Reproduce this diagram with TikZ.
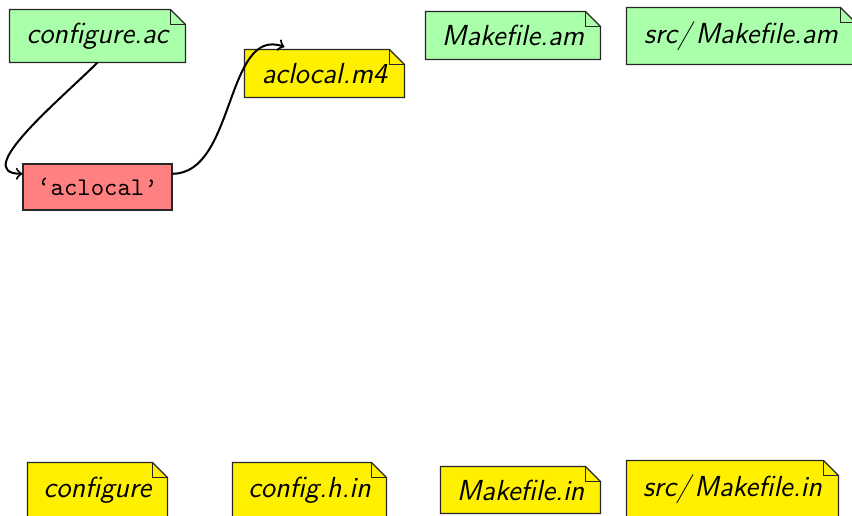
\documentclass[tikz,border=0pt]{standalone}
\usetikzlibrary{backgrounds,calc}
\definecolor{notegreen}{RGB}{170,255,170}
\definecolor{noteyellow}{RGB}{255,240,0}
\definecolor{notered}{RGB}{255,128,128}
\newcommand\notefile[2]{%
  \begin{scope}[on background layer]
    \filldraw[fill=#2,draw=black!85,line width=0.45pt]
      (#1.south west) -- (#1.north west) -- ([xshift=-6pt]#1.north east)
      -- ([yshift=-6pt]#1.north east) -- (#1.south east) -- cycle;
    \draw[black!85,line width=0.45pt]
      ([xshift=-6pt]#1.north east) |- ([yshift=-6pt]#1.north east);
  \end{scope}}
\tikzset{
  filetext/.style={inner sep=0pt,font=\fontsize{11.6}{13}\selectfont\sffamily\itshape},
  progbox/.style={inner sep=0pt,draw=black!85,line width=0.45pt,fill=notered,
    font=\fontsize{10.2}{12}\selectfont\ttfamily},
  flow/.style={->,line width=0.8pt,black}
}
\begin{document}
\begin{tikzpicture}[x=0.4pt,y=0.4pt]
\useasboundingbox (0,0) rectangle (852,515);
\node[filetext,minimum width=175*0.4pt,minimum height=52*0.4pt] (cac) at (97.5,479) {configure.ac};
\node[filetext,minimum width=159*0.4pt,minimum height=47*0.4pt] (m4) at (324.5,441.5) {aclocal.m4};
\node[progbox,minimum width=149*0.4pt,minimum height=46*0.4pt] (acl) at (97.5,328) {‘aclocal’};
\node[filetext,minimum width=174*0.4pt,minimum height=47*0.4pt] (mam) at (513,479.5) {Makefile.am};
\node[filetext,minimum width=228*0.4pt,minimum height=56*0.4pt] (smam) at (741,479) {src/\kern1.6pt Makefile.am};
\node[filetext,minimum width=139*0.4pt,minimum height=54*0.4pt] (cfg) at (97.5,25) {configure};
\node[filetext,minimum width=153*0.4pt,minimum height=54*0.4pt] (chi) at (309.5,25) {config.h.in};
\node[filetext,minimum width=159*0.4pt,minimum height=46*0.4pt] (min) at (520.5,25) {Makefile.in};
\node[filetext,minimum width=211*0.4pt,minimum height=56*0.4pt] (smin) at (732.5,26) {src/\kern1.6pt Makefile.in};
\notefile{cac}{notegreen}
\notefile{mam}{notegreen}
\notefile{smam}{notegreen}
\notefile{m4}{noteyellow}
\notefile{cfg}{noteyellow}
\notefile{chi}{noteyellow}
\notefile{min}{noteyellow}
\notefile{smin}{noteyellow}
\draw[flow] (cac.south) to[out=-135,in=180] (acl.170);
\draw[flow] (acl.10) to[out=0,in=160,looseness=0.95] ([yshift=1pt]$(m4.north west)!0.25!(m4.north east)$);
\end{tikzpicture}
\end{document}
